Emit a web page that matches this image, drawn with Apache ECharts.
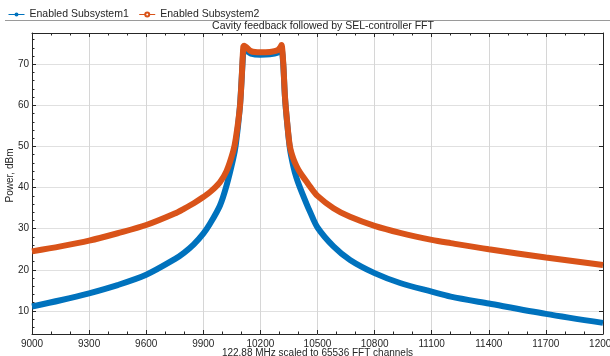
<!DOCTYPE html>
<html>
<head>
<meta charset="utf-8">
<script src="https://cdn.jsdelivr.net/npm/echarts@6/dist/echarts.min.js"></script>
<style>
  html, body { margin: 0; padding: 0; background: #fff; }
  #chart { width: 610px; height: 356px; }
</style>
</head>
<body>
<div id="chart"></div>
<script>
// FFT channel positions
const channels = [9000, 9150, 9300, 9450, 9600, 9750, 9800, 9850, 9900, 9935, 9987, 10022, 10057, 10071,
  10092, 10101, 10110, 10114, 10150, 10200, 10250, 10290, 10307, 10311, 10320, 10329, 10341, 10355,
  10373, 10390, 10408, 10443, 10460, 10500, 10584, 10671, 10800, 10934, 11100, 11200, 11400, 11700, 12000];

// power, dBm
const subsystem1 = [11.1, 12.6, 14.3, 16.3, 18.8, 22.6, 24.2, 26.2, 28.8, 31.2, 35.6, 40.5, 47.0, 50.5,
  59.5, 66.0, 73.0, 73.6, 72.6, 72.3, 72.4, 72.8, 73.5, 73.6, 70.0, 62.0, 55.5, 49.5,
  45.2, 42.3, 40.0, 36.0, 34.2, 30.3, 25.7, 22.4, 19.2, 16.8, 14.7, 13.5, 11.8, 9.3, 7.1];
const subsystem2 = [24.5, 25.7, 27.1, 28.9, 30.9, 33.7, 34.9, 36.2, 37.7, 38.9, 41.3, 44.0, 48.8, 52.0,
  59.5, 66.0, 74.2, 74.5, 73.2, 72.9, 73.0, 73.4, 74.3, 74.7, 70.3, 62.2, 55.7, 50.0,
  47.0, 45.2, 43.7, 41.4, 40.3, 38.0, 35.0, 32.9, 30.7, 29.0, 27.3, 26.5, 25.0, 23.0, 21.2];

const yTicks = [10, 20, 30, 40, 50, 60, 70];
const yMinorTicks = [6, 8, 12, 14, 16, 18, 22, 24, 26, 28, 32, 34, 36, 38, 42, 44, 46, 48, 52, 54, 56, 58, 62, 64, 66, 68, 72, 74, 76];

const chart = echarts.init(document.getElementById('chart'));
const font = 'Liberation Sans, Arial, sans-serif';
const ink = '#262626';

const option = {
  animation: false,
  backgroundColor: '#fff',
  textStyle: { fontFamily: font },
  title: {
    text: 'Cavity feedback followed by SEL-controller FFT',
    left: 318,
    textAlign: 'center',
    top: 16,
    textStyle: { fontSize: 10.5, fontWeight: 'normal', color: ink, fontFamily: font },
  },
  legend: {
    left: 3,
    top: 4,
    itemWidth: 16,
    itemHeight: 5,
    itemGap: 10,
    lineStyle: { width: 1 },
    textStyle: { fontSize: 10.5, color: ink, fontFamily: font },
    data: ['Enabled Subsystem1', 'Enabled Subsystem2'],
  },
  graphic: [
    {
      type: 'line',
      shape: { x1: 5, y1: 20.5, x2: 610, y2: 20.5 },
      style: { stroke: '#9a9a9a', lineWidth: 1 },
    },
  ],
  grid: { left: 32, top: 33, width: 571, height: 301, containLabel: false, outerBoundsMode: 'none' },
  xAxis: [
    {
      type: 'value',
      min: 9000,
      max: 12000,
      interval: 300,
      position: 'bottom',
      name: '122.88 MHz scaled to 65536 FFT channels',
      nameLocation: 'middle',
      nameGap: 14,
      nameMoveOverlap: false,
      nameTextStyle: { fontSize: 10, color: ink, fontFamily: font },
      axisLine: { lineStyle: { color: ink, width: 1 } },
      axisTick: { inside: true, length: 4, lineStyle: { color: ink } },
      minorTick: { show: true, splitNumber: 3, length: 2.5, lineStyle: { color: ink } },
      axisLabel: { fontSize: 10, color: ink, margin: 5, fontFamily: font, formatter: v => String(v) },
      splitLine: { show: true, lineStyle: { color: '#d6d6d6', width: 1 } },
    },
    {
      type: 'value',
      min: 9000,
      max: 12000,
      interval: 300,
      position: 'top',
      axisLine: { lineStyle: { color: ink, width: 1 } },
      axisTick: { inside: true, length: 4, lineStyle: { color: ink } },
      minorTick: { show: true, splitNumber: 3, length: 2.5, lineStyle: { color: ink } },
      axisLabel: { show: false },
      splitLine: { show: false },
    },
  ],
  yAxis: [
    {
      type: 'value',
      min: 4.4,
      max: 77.6,
      position: 'left',
      name: 'Power, dBm',
      nameLocation: 'middle',
      nameGap: 17,
      nameMoveOverlap: false,
      nameTextStyle: { fontSize: 10, color: ink, fontFamily: font, padding: [0, 0, 0, 16] },
      axisLine: { show: true, lineStyle: { color: ink, width: 1 } },
      axisTick: { show: true, inside: true, length: 4, customValues: yTicks, lineStyle: { color: ink } },
      axisLabel: { fontSize: 10, color: ink, margin: 3, customValues: yTicks, fontFamily: font, formatter: v => String(v) },
      splitLine: { show: true, lineStyle: { color: '#e0e0e0', width: 1 } },
    },
    {
      type: 'value',
      min: 4.4,
      max: 77.6,
      position: 'left',
      axisLine: { show: false },
      axisTick: { show: true, inside: true, length: 2.5, customValues: yMinorTicks, lineStyle: { color: ink } },
      axisLabel: { show: false },
      splitLine: { show: false },
    },
    {
      type: 'value',
      min: 4.4,
      max: 77.6,
      position: 'right',
      axisLine: { show: true, lineStyle: { color: ink, width: 1 } },
      axisTick: { show: true, inside: true, length: 4, customValues: yTicks, lineStyle: { color: ink } },
      axisLabel: { show: false },
      splitLine: { show: false },
    },
  ],
  series: [
    {
      name: 'Enabled Subsystem1',
      type: 'line',
      xAxisIndex: 0,
      yAxisIndex: 0,
      symbol: 'circle',
      symbolSize: 3,
      showSymbol: false,
      smooth: 0.3,
      color: '#0072BD',
      lineStyle: { width: 6, color: '#0072BD' },
      data: channels.map((c, i) => [c, subsystem1[i]]),
    },
    {
      name: 'Enabled Subsystem2',
      type: 'line',
      xAxisIndex: 0,
      yAxisIndex: 0,
      symbol: 'emptyCircle',
      symbolSize: 5,
      showSymbol: false,
      smooth: 0.3,
      color: '#D95319',
      lineStyle: { width: 6, color: '#D95319' },
      data: channels.map((c, i) => [c, subsystem2[i]]),
    },
  ],
};

chart.setOption(option);
window.addEventListener('resize', () => chart.resize());
</script>
</body>
</html>
